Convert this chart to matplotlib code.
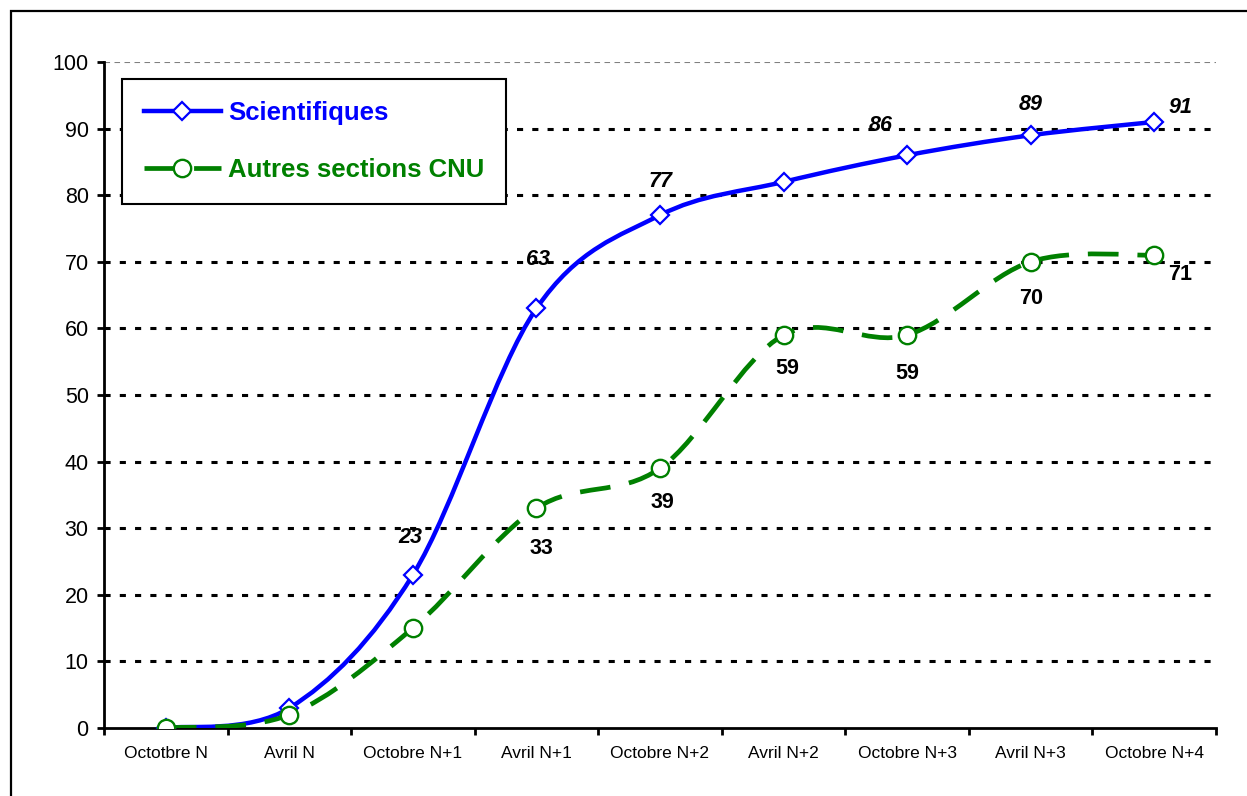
import matplotlib
matplotlib.use("Agg")
import matplotlib.pyplot as plt
import numpy as np
from matplotlib.path import Path
from matplotlib.patches import PathPatch, Rectangle
from matplotlib.lines import Line2D

plt.rcParams['font.family'] = ['Liberation Sans', 'DejaVu Sans']

# donnees
periodes = ["Octotbre N", "Avril N", "Octobre N+1", "Avril N+1", "Octobre N+2",
            "Avril N+2", "Octobre N+3", "Avril N+3", "Octobre N+4"]
scientifiques = [0, 3, 23, 63, 77, 82, 86, 89, 91]
autres_cnu = [0, 2, 15, 33, 39, 59, 59, 70, 71]

# etiquettes affichees (index) et decalage en pixels
etiq_sci = [2, 3, 4, 6, 7, 8]
decal_sci = [(-3, 37), (2, 49), (1, 34), (-26, 30), (0, 31), (26, 14)]
etiq_cnu = [3, 4, 5, 6, 7, 8]
decal_cnu = [(5, -40), (2, -34), (4, -33), (0, -38), (0, -37), (26, -19)]

BLEU = "#0000FF"
VERT = "#008000"


def chemin_lisse(x, y):
    # courbe de Bezier facon "ligne lissee" d'Excel (Catmull-Rom)
    p = np.column_stack([x, y]).astype(float)
    n = len(p)
    verts = [p[0]]
    codes = [Path.MOVETO]
    for i in range(n - 1):
        p0 = p[i - 1] if i > 0 else p[i]
        p3 = p[i + 2] if i + 2 < n else p[i + 1]
        c1 = p[i] + (p[i + 1] - p0) / 6
        c2 = p[i + 1] - (p3 - p[i]) / 6
        verts += [c1, c2, p[i + 1]]
        codes += [Path.CURVE4] * 3
    return Path(verts, codes)


W, H = 1247, 796
fig = plt.figure(figsize=(W / 100, H / 100), dpi=100)
ax = fig.add_axes([104 / W, 1 - 728 / H, (1216 - 104) / W, (728 - 62) / H])

# cadre exterieur
fig.patches.append(Rectangle((11 / W, -0.1), 1.2, 1 - 11 / H + 0.1, transform=fig.transFigure,
                             fill=False, edgecolor="black", linewidth=1.6))

x = np.arange(len(periodes))

ax.set_xlim(-0.5, len(periodes) - 0.5)
ax.set_ylim(0, 100)
ax.set_yticks(range(0, 101, 10))
for v in range(10, 100, 10):
    ax.axhline(v, color="black", linewidth=2.2, linestyle=(0, (2, 3)), zorder=1)
ax.axhline(100, color="#808080", linewidth=0.8, linestyle=(0, (5, 4)), zorder=1)

# courbes lissees
ax.add_patch(PathPatch(chemin_lisse(x, scientifiques), fill=False, edgecolor=BLEU,
                       linewidth=3.2, zorder=3, capstyle="round"))
ax.add_patch(PathPatch(chemin_lisse(x, autres_cnu), fill=False, edgecolor=VERT,
                       linewidth=3.4, linestyle=(0, (6.5, 4)), zorder=3))
ax.plot(x, scientifiques, linestyle="none", marker="D", markersize=9,
        markerfacecolor="white", markeredgecolor=BLEU, markeredgewidth=1.6, zorder=4)
ax.plot(x, autres_cnu, linestyle="none", marker="o", markersize=12.5,
        markerfacecolor="white", markeredgecolor=VERT, markeredgewidth=1.7, zorder=4)

for i, (dx, dy) in zip(etiq_sci, decal_sci):
    ax.annotate(str(scientifiques[i]), (x[i], scientifiques[i]), xytext=(dx, dy),
                textcoords="offset pixels", ha="center", va="center",
                fontsize=15.5, fontweight="bold", fontstyle="italic", zorder=5)
for i, (dx, dy) in zip(etiq_cnu, decal_cnu):
    ax.annotate(str(autres_cnu[i]), (x[i], autres_cnu[i]), xytext=(dx, dy),
                textcoords="offset pixels", ha="center", va="center",
                fontsize=15.5, fontweight="bold", zorder=5)

# axes
for s in ["top", "right"]:
    ax.spines[s].set_visible(False)
for s in ["left", "bottom"]:
    ax.spines[s].set_linewidth(2)
ax.set_xticks(x)
ax.set_xticklabels(periodes, fontsize=12.5)
ax.set_xticks(np.arange(-0.5, len(periodes)), minor=True)
ax.tick_params(axis="x", which="major", length=0, pad=13)
ax.tick_params(axis="x", which="minor", length=5, width=2, direction="out")
ax.tick_params(axis="y", length=5, width=2, direction="out", labelsize=15.5, pad=6)

# legende
poignees = [
    Line2D([], [], color=BLEU, linewidth=3.2, marker="D", markersize=9,
           markerfacecolor="white", markeredgecolor=BLEU, markeredgewidth=1.6),
    Line2D([], [], color=VERT, linewidth=3.4, linestyle=(0, (6.5, 4)), marker="o", markersize=12.5,
           markerfacecolor="white", markeredgecolor=VERT, markeredgewidth=1.7),
]
leg = fig.legend(poignees, ["Scientifiques", "Autres sections CNU"],
                 loc="upper left", bbox_to_anchor=(122 / W, 1 - 79 / H),
                 bbox_transform=fig.transFigure, borderaxespad=0, fancybox=False,
                 frameon=True, edgecolor="black", framealpha=1,
                 prop={"size": 18.5, "weight": "bold"}, handlelength=3.0,
                 handletextpad=0.27, labelspacing=1.3, borderpad=0.85)
leg.get_frame().set_linewidth(1.5)
for t, c in zip(leg.get_texts(), [BLEU, VERT]):
    t.set_color(c)

fig.savefig("out.png", dpi=100)
